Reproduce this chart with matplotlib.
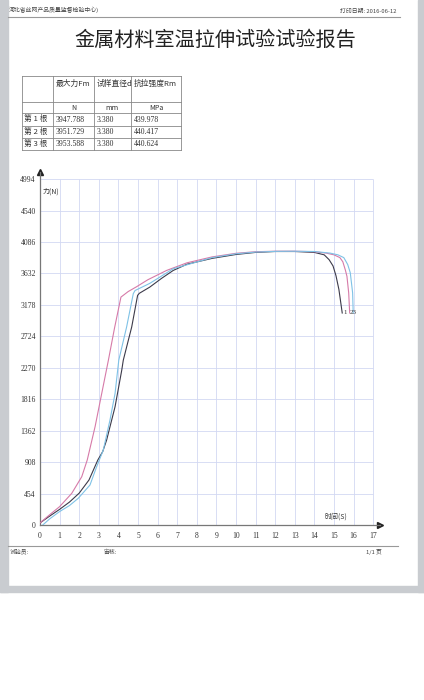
import matplotlib
matplotlib.use('Agg')
import matplotlib.pyplot as plt
from matplotlib.patches import Rectangle

plt.rcParams['font.family'] = ['Noto Sans CJK SC', 'DejaVu Sans']

title = '金属材料室温拉伸试验试验报告'
org = '河北省丝网产品质量监督检验中心)'
print_date = '打印日期: 2016-06-12'

table_head = ['', '最大力Fm', '试样直径d', '抗拉强度Rm']
table_units = ['', 'N', 'mm', 'MPa']
row_names = ['第 1 根', '第 2 根', '第 3 根']
max_force = ['3947.788', '3951.729', '3953.588']
diameter = ['3.380', '3.380', '3.380']
strength = ['439.978', '440.417', '440.624']

y_ticks = [0, 454, 908, 1362, 1816, 2270, 2724, 3178, 3632, 4086, 4540, 4994]
x_ticks = list(range(0, 18))

# curve 1 (dark)
t1 = [0, 0.5, 1.0, 1.5, 2.0, 2.5, 2.95, 3.2, 3.4, 3.83, 4.17, 4.25, 4.68, 4.98, 5.07,
      5.6, 6.2, 6.8, 7.5, 8.8, 10, 11, 12, 13, 14, 14.5, 14.75, 14.95, 15.1, 15.25, 15.35, 15.42]
f1 = [30, 130, 226, 330, 460, 650, 938, 1060, 1227, 1708, 2234, 2380, 2860, 3315, 3345,
      3434, 3560, 3675, 3765, 3850, 3905, 3935, 3948, 3948, 3935, 3900, 3830, 3740, 3600, 3400, 3200, 3060]
# curve 2 (pink)
t2 = [0, 0.5, 1.0, 1.62, 2.13, 2.41, 2.81, 3.15, 3.49, 3.8, 4.13, 4.5, 4.93, 5.5, 6.46,
      7.5, 8.78, 10, 11, 12, 13, 14, 14.6, 15.0, 15.3, 15.45, 15.58, 15.66, 15.75, 15.8]
f2 = [30, 150, 265, 457, 697, 938, 1419, 1900, 2380, 2840, 3290, 3370, 3440, 3540, 3675,
      3785, 3870, 3922, 3945, 3952, 3952, 3945, 3925, 3900, 3860, 3800, 3680, 3590, 3350, 3060]
# curve 3 (blue)
t3 = [0.14, 0.5, 0.99, 1.5, 1.95, 2.55, 2.89, 3.23, 3.57, 3.83, 4.02, 4.42, 4.76, 4.85,
      5.6, 6.8, 8.78, 10, 11, 12, 13, 14, 14.8, 15.2, 15.5, 15.7, 15.83, 15.95, 15.98]
f3 = [0, 90, 192, 280, 385, 577, 841, 1083, 1515, 1900, 2380, 2860, 3340, 3385,
      3488, 3700, 3860, 3915, 3940, 3950, 3952, 3948, 3925, 3900, 3860, 3760, 3642, 3352, 3060]

series = [(t1, f1, '#3c3a4a'), (t2, f2, '#d67aa8'), (t3, f3, '#7fc2e6')]

fig = plt.figure(figsize=(4.24, 7.0), dpi=100)

# page background in pixel coordinates
page = fig.add_axes([0, 0, 1, 1])
page.set_xlim(0, 424)
page.set_ylim(700, 0)
page.axis('off')
page.add_patch(Rectangle((0, 0), 8, 592, color='#c9ccd0', zorder=0))
page.add_patch(Rectangle((418, 0), 6, 592, color='#c9ccd0', zorder=0))
page.add_patch(Rectangle((0, 586), 424, 6, color='#c9ccd0', zorder=0))

page.text(9, 10, org, fontsize=4.2, color='#444', va='center')
page.text(396, 11, print_date, fontsize=4.2, color='#444', va='center', ha='right')
page.plot([8, 400], [17, 17], color='#999', lw=0.8)
page.text(215, 40, title, fontsize=14.5, ha='center', va='center', color='#222')

# table
cols = [22, 53, 94, 131, 181]
rows = [76, 102, 113, 126, 138, 150]
for x in cols:
    page.plot([x, x], [rows[0], rows[-1]], color='#888', lw=0.6)
for y in rows:
    page.plot([cols[0], cols[-1]], [y, y], color='#888', lw=0.6)
tfs = 5.6
for i, h in enumerate(table_head[1:]):
    page.text(cols[i + 1] + 2.5, 84, h, fontsize=tfs, va='center', color='#333')
for i, u in enumerate(table_units[1:]):
    page.text((cols[i + 1] + cols[i + 2]) / 2, 107.5, u, fontsize=tfs - 0.5,
              ha='center', va='center', color='#333')
for r in range(3):
    yc = (rows[r + 2] + rows[r + 3]) / 2
    page.text(cols[0] + 2.5, yc, row_names[r], fontsize=tfs, va='center', color='#333')
    for c, val in enumerate([max_force[r], diameter[r], strength[r]]):
        page.text(cols[c + 1] + 2.5, yc, val, fontsize=tfs, va='center', color='#333',
                  family=['Liberation Serif', 'DejaVu Serif'])

# footer
page.plot([8, 398], [546, 546], color='#999', lw=0.8)
page.text(10, 552, '试验员:', fontsize=4.2, color='#444', va='center')
page.text(104, 552, '审核:', fontsize=4.2, color='#444', va='center')
page.text(366, 552, '1/1 页', fontsize=4.2, color='#444', va='center')

# ---- chart ----
px_per_s = 19.6
px_per_n = 31.45 / 454
ax = fig.add_axes([40 / 424, 175 / 700, 340 / 424, 353 / 700])
ax.set_xlim(0, 340 / px_per_s)
ax.set_ylim(0, 353 / px_per_n)
ax.patch.set_alpha(0)
for s in ['top', 'right']:
    ax.spines[s].set_visible(False)
for s in ['left', 'bottom']:
    ax.spines[s].set_color('#777')
    ax.spines[s].set_linewidth(0.9)

grid_c = '#d2d8f2'
ax.vlines(x_ticks[1:], 0, y_ticks[-1], color=grid_c, lw=0.6, zorder=1)
ax.hlines(y_ticks[1:], 0, x_ticks[-1], color=grid_c, lw=0.6, zorder=1)

for t, f, c in series:
    ax.plot(t, f, color=c, lw=0.8, zorder=3)

ax.plot(1, 0, '>', color='#222', ms=4, transform=ax.transAxes, clip_on=False)
ax.plot(0, 1, '^', color='#222', ms=4, transform=ax.transAxes, clip_on=False)

serif = ['Liberation Serif', 'DejaVu Serif']
ax.set_xticks(x_ticks)
ax.set_xticklabels([str(v) for v in x_ticks], fontsize=5.5, family=serif, color='#333')
ax.set_yticks(y_ticks)
ax.set_yticklabels([str(v) for v in y_ticks], fontsize=5.5, family=serif, color='#333')
ax.tick_params(length=0, pad=5)
ax.tick_params(axis='y', pad=3)

ax.text(0.15, 4807, '力(N)', fontsize=5, va='center', color='#333')
ax.text(15.08, 115, '时间(S)', fontsize=5, va='center', ha='center', color='#333')
ax.text(15.47, 3065, '1', fontsize=5, va='center', family=serif, color='#333')
ax.text(15.82, 3065, '23', fontsize=5, va='center', family=serif, color='#333')

fig.savefig('out.png', dpi=100)
